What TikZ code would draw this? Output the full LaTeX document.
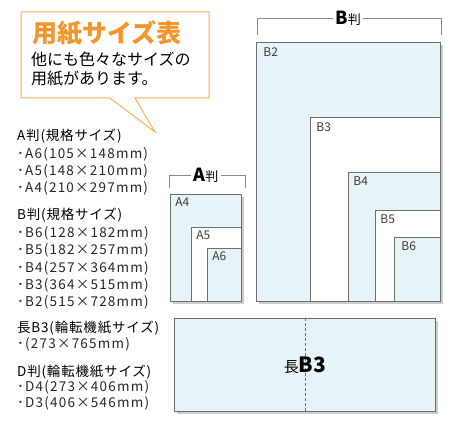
\documentclass[tikz,border=0pt]{standalone}
\usepackage{fontspec}
\setmainfont{Noto Sans CJK JP}
\definecolor{paperblue}{RGB}{230,244,248}
\definecolor{paperline}{RGB}{110,110,110}
\definecolor{shadowgray}{RGB}{205,205,205}
\definecolor{calloutorange}{RGB}{248,178,92}
\definecolor{titleorange}{RGB}{245,150,45}
\definecolor{tagtext}{RGB}{60,60,60}
\usetikzlibrary{positioning,shadows}

\tikzset{
  paper/.style={draw=paperline, line width=0.8pt, fill=paperblue, inner sep=0pt, anchor=south east},
  paperwhite/.style={paper, fill=white},
  papershadow/.style={general shadow={fill=shadowgray, shadow xshift=2.5pt, shadow yshift=-2.5pt}},
  sizetag/.style={font=\fontsize{12}{12}\selectfont, text=tagtext, anchor=north west, inner sep=0pt},
  listhead/.style={font=\fontsize{13.5}{14}\selectfont\addfontfeature{LetterSpace=6}, anchor=west, inner sep=0pt},
  listitem/.style={font=\fontsize{13.5}{14}\selectfont\addfontfeature{LetterSpace=9}, text=black!85, anchor=west, inner sep=0pt},
  bracket/.style={draw=black!45, line width=0.8pt},
  grouplabel/.style={inner sep=2pt, font=\fontsize{13}{13}\selectfont}
}

\begin{document}
\begin{tikzpicture}[x=1pt, y=-1pt]
  \useasboundingbox (0,0) rectangle (460,430);

  % callout
  \draw[draw=calloutorange, line width=1pt, fill=white, line join=miter] (21,12) -- (209,12) -- (209,98) -- (135,98) -- (155,132) -- (110,98) -- (21,98) -- cycle;
  \node[anchor=west, inner sep=0pt, text=titleorange, font=\fontsize{25}{25}\selectfont\bfseries] (title) at (32,33) {用紙サイズ表};
  \node[anchor=north west, inner sep=0pt, align=left, font=\fontsize{16}{19}\selectfont] (note) at (31,52) {他にも色々なサイズの\\用紙があります。};

  % size list
  \node[listhead] (headA) at (17,136) {A判(規格サイズ)};
  \node[listitem] (itemA6) at (17,154) {･A6(105×148mm)};
  \node[listitem] (itemA5) at (17,171) {･A5(148×210mm)};
  \node[listitem] (itemA4) at (17,188) {･A4(210×297mm)};
  \node[listhead] (headB) at (17,215) {B判(規格サイズ)};
  \node[listitem] (itemB6) at (17,233) {･B6(128×182mm)};
  \node[listitem] (itemB5) at (17,250) {･B5(182×257mm)};
  \node[listitem] (itemB4) at (17,268) {･B4(257×364mm)};
  \node[listitem] (itemB3) at (17,285) {･B3(364×515mm)};
  \node[listitem] (itemB2) at (17,302) {･B2(515×728mm)};
  \node[listhead] (headLong) at (17,328) {長B3(輪転機紙サイズ)};
  \node[listitem] (itemLong) at (17,344) {･(273×765mm)};
  \node[listhead] (headD) at (17,372) {D判(輪転機紙サイズ)};
  \node[listitem] (itemD4) at (17,387) {･D4(273×406mm)};
  \node[listitem] (itemD3) at (17,403) {･D3(406×546mm)};

  % A sizes
  \node[paper, papershadow, minimum width=71pt, minimum height=107pt] (A4) at (242,302) {};
  \node[paperwhite, minimum width=50pt, minimum height=74pt] (A5) at (242,302) {};
  \node[paper, minimum width=34pt, minimum height=53pt] (A6) at (242,302) {};
  \node[sizetag] at ([shift={(5,3)}]A4.north west) {A4};
  \node[sizetag] at ([shift={(5,3)}]A5.north west) {A5};
  \node[sizetag] at ([shift={(5,3)}]A6.north west) {A6};
  \node[grouplabel] (labelA) at (206,175) {{\fontsize{18}{18}\selectfont\bfseries A}判};
  \draw[bracket] (labelA.west) -- (169,175) -- (169,188);
  \draw[bracket] (labelA.east) -- (245,175) -- (245,188);

  % B sizes
  \node[paper, papershadow, minimum width=184pt, minimum height=259pt] (B2) at (441,302) {};
  \node[paperwhite, minimum width=130pt, minimum height=184pt] (B3) at (441,302) {};
  \node[paper, minimum width=92pt, minimum height=129pt] (B4) at (441,302) {};
  \node[paperwhite, minimum width=65pt, minimum height=91pt] (B5) at (441,302) {};
  \node[paper, minimum width=46pt, minimum height=64pt] (B6) at (441,302) {};
  \node[sizetag] at ([shift={(7,5)}]B2.north west) {B2};
  \node[sizetag] at ([shift={(6,5)}]B3.north west) {B3};
  \node[sizetag] at ([shift={(5,4)}]B4.north west) {B4};
  \node[sizetag] at ([shift={(5,4)}]B5.north west) {B5};
  \node[sizetag] at ([shift={(7,4)}]B6.north west) {B6};
  \node[grouplabel] (labelB) at (348,18) {{\fontsize{18}{18}\selectfont\bfseries B}判};
  \draw[bracket] (labelB.west) -- (257,18) -- (257,35);
  \draw[bracket] (labelB.east) -- (441,18) -- (441,35);

  % long B3
  \node[paper, papershadow, minimum width=261pt, minimum height=93pt] (longB3) at (436,412) {};
  \draw[paperline, line width=0.6pt, dashed, dash pattern=on 3pt off 2pt] (longB3.north) -- (longB3.south);
  \node[inner sep=1pt, font=\fontsize{15}{15}\selectfont] (labelLong) at (longB3.center) {長{\fontsize{21}{21}\selectfont\bfseries B3}};
\end{tikzpicture}
\end{document}
